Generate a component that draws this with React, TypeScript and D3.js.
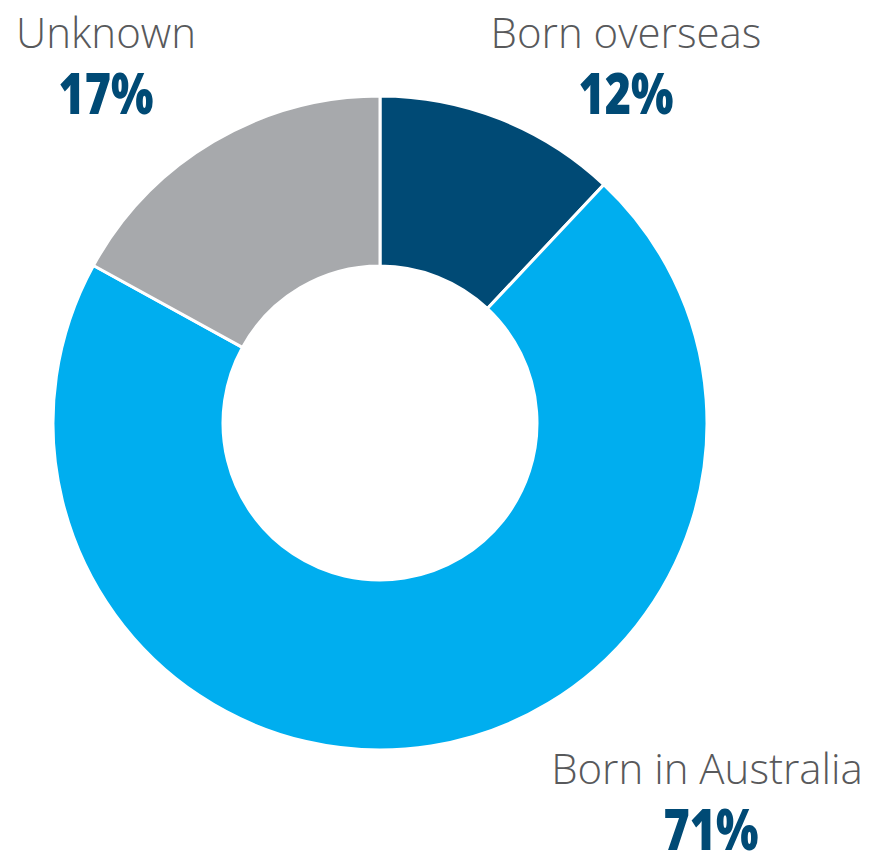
import React from "react";
import * as d3 from "d3";

const categories = ["Born overseas", "Born in Australia", "Unknown"];
const values = [12, 71, 17];
const colors = ["#004A75", "#00AEEF", "#A7A9AC"];
const labelPos: [number, number][] = [
  [626, 48],
  [707, 784],
  [106, 48],
];

export default function App() {
  const W = 874, H = 855;
  const cx = 380, cy = 423;
  const pie = d3.pie<number>().sort(null).value((d) => d);
  const arcs = pie(values);
  const arc = d3.arc<d3.PieArcDatum<number>>().innerRadius(157).outerRadius(327);
  return (
    <svg width={W} height={H} style={{ position: "absolute", left: 0, top: 0 }}>
      <g transform={`translate(${cx},${cy})`}>
        {arcs.map((a, i) => (
          <path key={i} d={arc(a) || ""} fill={colors[i]} stroke="#fff" strokeWidth={3} />
        ))}
      </g>
      {categories.map((c, i) => (
        <g key={c}>
          <text x={labelPos[i][0]} y={labelPos[i][1]} textAnchor="middle"
            fontFamily="'Open Sans', sans-serif" fontWeight={300} fontSize={42} fill="#58595B">{c}</text>
          <text x={labelPos[i][0] + (i === 1 ? 4 : 0)} y={labelPos[i][1] + 66} textAnchor="middle"
            fontFamily="'Open Sans', sans-serif" fontWeight={800} fontSize={56} fill="#004A75"
            textLength={95} lengthAdjust="spacingAndGlyphs">{values[i]}%</text>
        </g>
      ))}
    </svg>
  );
}
